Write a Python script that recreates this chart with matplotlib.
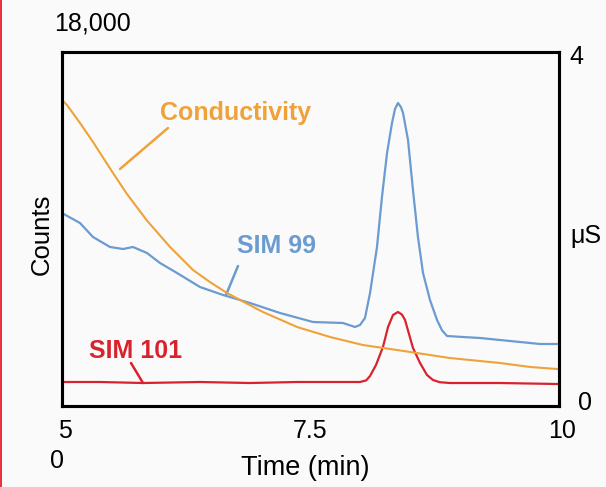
import matplotlib
matplotlib.use("Agg")
import matplotlib.pyplot as plt
import matplotlib.transforms as mtransforms
from matplotlib.patches import Rectangle

plt.rcParams['font.family'] = ['Liberation Sans', 'DejaVu Sans']

# SIM 99 (counts)
sim99_t = [5.000, 5.181, 5.312, 5.483, 5.614, 5.714, 5.855, 5.986, 6.157, 6.388, 6.620, 6.791,
           6.891, 7.193, 7.525, 7.827, 7.948, 7.998, 8.048, 8.099, 8.169, 8.219, 8.270, 8.320,
           8.350, 8.380, 8.410, 8.431, 8.481, 8.531, 8.581, 8.632, 8.702, 8.773, 8.823, 8.873,
           9.034, 9.205, 9.406, 9.809, 9.980]
sim99_c = [9810, 9305, 8593, 8085, 7983, 8085, 7780, 7271, 6763, 6051, 5644, 5390,
           5237, 4729, 4271, 4220, 4017, 4119, 4475, 5746, 8085, 10627, 12864, 14390,
           15100, 15407, 15200, 14898, 13525, 10983, 8593, 6763, 5390, 4373, 3850, 3560,
           3508, 3458, 3356, 3153, 3153]

# SIM 101 (counts)
sim101_t = [5.000, 5.382, 5.815, 6.388, 6.891, 7.364, 7.696, 7.998, 8.060, 8.099, 8.159, 8.229,
            8.280, 8.330, 8.380, 8.420, 8.451, 8.531, 8.602, 8.672, 8.732, 8.800, 8.903, 9.406,
            9.980]
sim101_c = [1220, 1220, 1169, 1220, 1169, 1220, 1220, 1220, 1300, 1525, 2085, 3000,
            4017, 4627, 4780, 4650, 4373, 2949, 2186, 1576, 1322, 1210, 1169, 1169,
            1119]

# Conductivity (uS)
cond_t = [5.010, 5.050, 5.181, 5.312, 5.513, 5.654, 5.855, 6.087, 6.318, 6.489, 6.660, 6.791,
          7.022, 7.364, 7.696, 8.028, 8.370, 8.903, 9.406, 9.708, 9.980]
cond_us = [3.446, 3.401, 3.198, 2.983, 2.633, 2.395, 2.095, 1.797, 1.537, 1.400, 1.277, 1.198,
           1.062, 0.893, 0.780, 0.689, 0.633, 0.542, 0.486, 0.441, 0.418]

x_ticks = [5, 7.5, 10]
x_labels = ['5', '7.5', '10']

BLUE = '#6b9bd0'
RED = '#d8232f'
ORANGE = '#f0a23a'
BG = '#fafafa'

W, H = 606, 487
fig = plt.figure(figsize=(W / 100, H / 100), dpi=100, facecolor=BG)
L, R, B, T = 62, 559, 406, 52
ax = fig.add_axes([L / W, 1 - B / H, (R - L) / W, (B - T) / H], facecolor=BG)
ax2 = ax.twinx()

ax.plot(sim99_t, sim99_c, color=BLUE, lw=1.6, zorder=3, solid_joinstyle='round')
ax.plot(sim101_t, sim101_c, color=RED, lw=1.6, zorder=4, solid_joinstyle='round')
ax2.plot(cond_t, cond_us, color=ORANGE, lw=1.5, zorder=2, solid_joinstyle='round')

ax.set_xlim(5, 10)
ax.set_ylim(0, 18000)
ax2.set_ylim(0, 4)

for a in (ax, ax2):
    for s in a.spines.values():
        s.set_linewidth(2.2)
        s.set_color('black')
ax.set_yticks([])
ax2.set_yticks([])
ax.set_xticks(x_ticks)
ax.set_xticklabels(x_labels)
ax.tick_params(axis='x', length=0, pad=9, labelsize=18)
for lbl, dx in zip(ax.get_xticklabels(), [3, 0, 3]):
    lbl.set_transform(lbl.get_transform() +
                      mtransforms.ScaledTranslation(dx / 100, 0, fig.dpi_scale_trans))

def ftext(x, y, s, **kw):
    fig.text(x / W, 1 - y / H, s, **kw)

fs = 18
ftext(92, 24, '18,000', ha='center', va='center', fontsize=fs)
ftext(57, 461, '0', ha='center', va='center', fontsize=fs)
ftext(576, 57, '4', ha='center', va='center', fontsize=fs)
ftext(585, 403, '0', ha='center', va='center', fontsize=fs)
ftext(586, 236, 'μS', ha='center', va='center', fontsize=fs)
ftext(42, 234, 'Counts', ha='center', va='center', fontsize=18.5, rotation=90)
ftext(305, 468, 'Time (min)', ha='center', va='center', fontsize=19.5)

def px2data(px, py):
    t = 5 + (px - L) / (R - L) * 5
    c = (B - py) / (B - T) * 18000
    return t, c

for (text, col, tx, ty, lx0, ly0, lx1, ly1) in [
    ('Conductivity', ORANGE, 236, 113, 120, 169, 168, 128),
    ('SIM 99', BLUE, 276, 246, 226, 295, 238, 266),
    ('SIM 101', RED, 136, 351, 143, 383, 131, 363),
]:
    ax.annotate('', xy=px2data(lx0, ly0), xytext=px2data(lx1, ly1),
                arrowprops=dict(arrowstyle='-', color=col, lw=1.8,
                                shrinkA=0, shrinkB=0), zorder=5)
    ax.text(*px2data(tx, ty), text, color=col, fontsize=18, fontweight='bold',
            ha='center', va='center', zorder=5)

fig.add_artist(Rectangle((0, 0), 2 / W, 1, transform=fig.transFigure,
                         color='#e8343e', lw=0))

fig.savefig('out.png', dpi=100, facecolor=BG)
